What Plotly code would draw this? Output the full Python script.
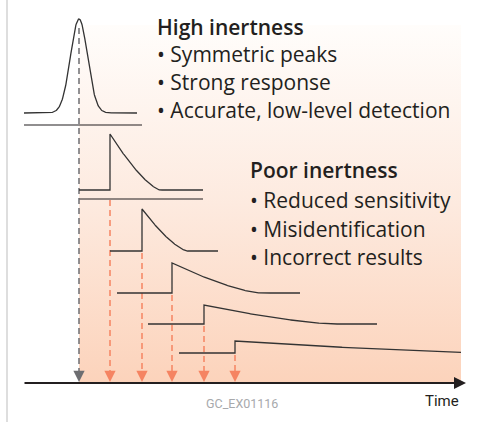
import numpy as np
import plotly.graph_objects as go

# ---- schematic values (canvas units, y grows downward) ----
gauss_center = 79
gauss_top = 19
gauss_base = 113
gauss_sigma = 8.5
gauss_x0, gauss_x1 = 24, 137

tail_steps = [110, 142, 172, 204, 235]
tail_tops = [134, 209, 263, 305, 341]
tail_bases = [190, 251, 293, 324, 353]
tail_starts = [79, 110, 117, 148, 179]
tail_ends = [203, 218, 300, 377, 461]
tail_lengths = [50, 45, 88, 129, 260]
tail_power = 1.4

sep_y = [125, 199]
sep_x0 = [24, 79]
sep_x1 = [142, 203]

gray_dash_top = 28
orange_dash_tops = [200, 253, 295, 326, 355]

axis_y = 383
axis_x0, axis_x1 = 23, 466

grad_x0, grad_x1 = 79, 461
grad_y0 = 25

high_title = "High inertness"
high_items = ["Symmetric peaks", "Strong response", "Accurate, low-level detection"]
high_x = 155
high_ys = [27, 54, 82, 110]

poor_title = "Poor inertness"
poor_items = ["Reduced sensitivity", "Misidentification", "Incorrect results"]
poor_x = 248
poor_ys = [170, 200, 229, 257]

ORANGE = "#F58462"
DARK = "#231F20"
FONT = "Open Sans"

fig = go.Figure()

# gradient background
fig.add_trace(go.Scatter(
    x=[grad_x0, grad_x1, grad_x1, grad_x0, grad_x0],
    y=[grad_y0, grad_y0, axis_y, axis_y, grad_y0],
    mode="lines", line=dict(width=0), fill="toself",
    fillgradient=dict(type="vertical",
                      colorscale=[[0, "#FCD3BB"], [0.5, "#FDEADF"], [1, "#FFFDFB"]]),
    hoverinfo="skip"))

# left border
fig.add_trace(go.Scatter(x=[7, 7], y=[0, 422], mode="lines",
                         line=dict(color="#BDBDBD", width=1), hoverinfo="skip"))

# gaussian peak
gx = np.linspace(gauss_x0, gauss_x1, 300)
gy = gauss_base - (gauss_base - gauss_top) * np.exp(-((gx - gauss_center) ** 2) / (2 * gauss_sigma ** 2))
fig.add_trace(go.Scatter(x=gx, y=gy, mode="lines",
                         line=dict(color="#333333", width=1.3), hoverinfo="skip"))

# separators
for y, x0, x1 in zip(sep_y, sep_x0, sep_x1):
    fig.add_trace(go.Scatter(x=[x0, x1], y=[y, y], mode="lines",
                             line=dict(color=DARK, width=1.2), hoverinfo="skip"))

# dashed lines
fig.add_trace(go.Scatter(x=[gauss_center, gauss_center], y=[gray_dash_top, axis_y - 3],
                         mode="lines", line=dict(color="#6D6E71", width=1.5, dash="6px,4px"),
                         hoverinfo="skip"))
for xs, yt in zip(tail_steps, orange_dash_tops):
    fig.add_trace(go.Scatter(x=[xs, xs], y=[yt, axis_y - 3], mode="lines",
                             line=dict(color=ORANGE, width=1.5, dash="6px,4px"),
                             hoverinfo="skip"))

# tailing peaks
for xs, top, base, x0, x1, L in zip(tail_steps, tail_tops, tail_bases,
                                     tail_starts, tail_ends, tail_lengths):
    dx = np.linspace(xs, x1, 300)
    u = np.clip((dx - xs) / L, 0, 1)
    dy = base - (base - top) * (1 - u) ** tail_power
    xx = np.concatenate([[x0, xs], dx])
    yy = np.concatenate([[base, base], dy])
    fig.add_trace(go.Scatter(x=xx, y=yy, mode="lines",
                             line=dict(color="#333333", width=1.3), hoverinfo="skip"))

annotations = []
# arrowheads on dashed lines
annotations.append(dict(x=gauss_center, y=axis_y - 1, ax=gauss_center, ay=axis_y - 9,
                        xref="x", yref="y", axref="x", ayref="y", text="",
                        showarrow=True, arrowhead=2, arrowsize=1.4, arrowwidth=1.6,
                        arrowcolor="#6D6E71"))
for xs in tail_steps:
    annotations.append(dict(x=xs, y=axis_y - 1, ax=xs, ay=axis_y - 9,
                            xref="x", yref="y", axref="x", ayref="y", text="",
                            showarrow=True, arrowhead=2, arrowsize=1.4, arrowwidth=1.6,
                            arrowcolor=ORANGE))
# time axis
annotations.append(dict(x=axis_x1, y=axis_y, ax=axis_x0, ay=axis_y,
                        xref="x", yref="y", axref="x", ayref="y", text="",
                        showarrow=True, arrowhead=2, arrowsize=1.2, arrowwidth=2,
                        arrowcolor=DARK))

# texts
def block(title, items, x, ys):
    out = [dict(x=x, y=ys[0], text=title, xref="x", yref="y",
                xanchor="left", yanchor="middle", showarrow=False,
                font=dict(family=FONT, size=21, weight=600, color=DARK))]
    for it, y in zip(items, ys[1:]):
        out.append(dict(x=x, y=y, text="• " + it, xref="x", yref="y",
                        xanchor="left", yanchor="middle", showarrow=False,
                        font=dict(family=FONT, size=21, color=DARK)))
    return out

annotations += block(high_title, high_items, high_x, high_ys)
annotations += block(poor_title, poor_items, poor_x, poor_ys)

annotations.append(dict(x=461, y=401, text="Time", xref="x", yref="y",
                        xanchor="right", yanchor="middle", showarrow=False,
                        font=dict(family="Roboto", size=15, color=DARK)))
annotations.append(dict(x=242, y=403, text="GC_EX01116", xref="x", yref="y",
                        xanchor="center", yanchor="middle", showarrow=False,
                        font=dict(family="Roboto", size=12.5, color="#A7A9AC")))

fig.update_layout(
    width=478, height=422,
    margin=dict(l=0, r=0, t=0, b=0),
    paper_bgcolor="white", plot_bgcolor="white",
    showlegend=False,
    xaxis=dict(range=[0, 478], visible=False, fixedrange=True),
    yaxis=dict(range=[422, 0], visible=False, fixedrange=True),
    annotations=annotations,
)

fig.write_html("out.html", config={"displayModeBar": False},
               post_script="document.body.style.margin='0';")
